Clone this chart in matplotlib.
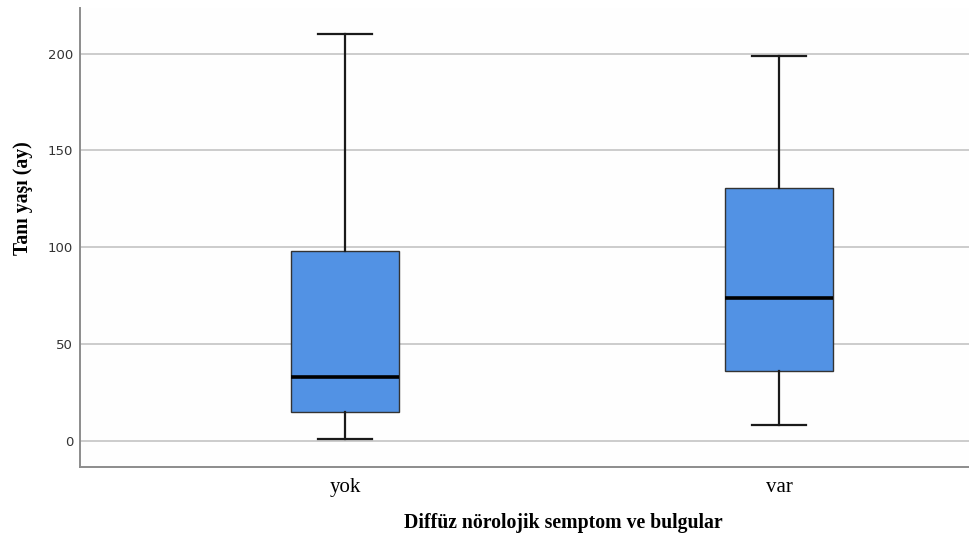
import matplotlib.pyplot as plt

# summary statistics per group (months)
groups = ["yok", "var"]
whisker_low = [1, 8]
q1 = [15, 35.7]
median = [33, 73.6]
q3 = [98, 130.5]
whisker_high = [210, 199]

box_color = "#5292e4"

stats = []
for i, name in enumerate(groups):
    stats.append({
        "label": name,
        "whislo": whisker_low[i],
        "q1": q1[i],
        "med": median[i],
        "q3": q3[i],
        "whishi": whisker_high[i],
        "fliers": [],
    })

fig = plt.figure(figsize=(9.7, 5.35), dpi=100)
ax = fig.add_axes([0.0825, 0.127, 0.9175, 0.858])
ax.set_facecolor("#fefefe")

ax.bxp(stats, positions=[0, 1], widths=0.249, patch_artist=True,
       boxprops=dict(facecolor=box_color, edgecolor="#333333", linewidth=1.0),
       medianprops=dict(color="black", linewidth=2.6),
       whiskerprops=dict(color="#1a1a1a", linewidth=1.6),
       capprops=dict(color="#1a1a1a", linewidth=1.6),
       capwidths=0.125, zorder=3)

ax.set_xlim(-0.611, 1.44)
ax.set_ylim(-13.7, 223.6)
ax.set_yticks([0, 50, 100, 150, 200])
ax.yaxis.grid(True, color="#cccccc", linewidth=1.4, zorder=0)
ax.set_axisbelow(True)

for side in ["top", "right"]:
    ax.spines[side].set_visible(False)
for side in ["left", "bottom"]:
    ax.spines[side].set_color("#8c8c8c")
    ax.spines[side].set_linewidth(1.4)

ax.tick_params(axis="y", length=0, pad=5, labelsize=9.5, labelcolor="#333333")
ax.tick_params(axis="x", length=0, pad=8)
for lbl in ax.get_xticklabels():
    lbl.set_fontfamily("Liberation Serif")
    lbl.set_fontsize(15)

ax.set_xlabel("Diffüz nörolojik semptom ve bulgular", fontfamily="Liberation Serif",
              fontweight="bold", fontsize=14.2)
ax.xaxis.set_label_coords(0.543, -0.100)
ax.set_ylabel("Tanı yaşı (ay)", fontfamily="Liberation Serif",
              fontweight="bold", fontsize=14.2)
ax.yaxis.set_label_coords(-0.053, 0.586)

fig.savefig("out.png", dpi=100)
